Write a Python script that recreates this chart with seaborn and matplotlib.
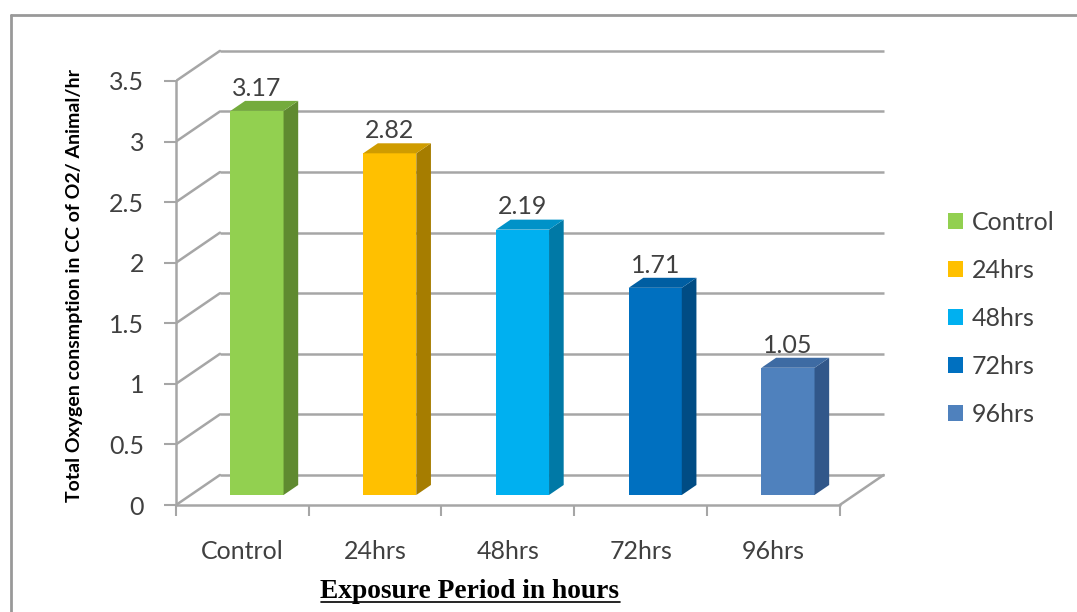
import matplotlib
matplotlib.use("Agg")
import matplotlib.pyplot as plt
from matplotlib.patches import Polygon, Patch
from matplotlib.lines import Line2D
from matplotlib.ticker import FuncFormatter, FixedLocator
import seaborn as sns

categories = ["Control", "24hrs", "48hrs", "72hrs", "96hrs"]
values = [3.17, 2.82, 2.19, 1.71, 1.05]
front_colors = ["#92D050", "#FFC000", "#00B0F0", "#0070C0", "#4F81BD"]
side_colors = ["#5F8A30", "#A67D00", "#0079A6", "#004C84", "#31578A"]
top_colors = ["#74AB3C", "#CF9C00", "#0092C8", "#005EA2", "#3E6BA3"]
y_ticks = [0, 0.5, 1, 1.5, 2, 2.5, 3, 3.5]
y_label = "Total Oxygen consmption in CC of O2/ Animal/hr"
x_label = "Exposure Period in hours"

sns.set_theme(style="white")
plt.rcParams["font.family"] = ["Lato", "DejaVu Sans"]

GRID = "#A6A6A6"
TEXT = "#404040"
FS = 18
# depth of the 3-D box, in data units (x: categories, y: value)
DX, DY = 0.331, 0.248
YMAX = y_ticks[-1]

fig = plt.figure(figsize=(10.77, 6.12), dpi=100)
ax = fig.add_axes([0.1634, 0.1748, 0.6583, 0.748])

sns.barplot(x=categories, y=values, hue=categories, palette=front_colors,
            width=0.4, legend=False, saturation=1, ax=ax, zorder=3)

ax.set_xlim(-0.5, 4.5 + DX + 0.01)
ax.set_ylim(0, YMAX + DY + 0.03)
for s in ax.spines.values():
    s.set_visible(False)

# back wall gridlines and left side-wall diagonals
for v in y_ticks:
    ax.plot([-0.5 + DX, 4.5 + DX], [v + DY, v + DY], color=GRID, lw=1.8,
            zorder=1, solid_capstyle="butt")
    ax.plot([-0.5, -0.5 + DX], [v, v + DY], color=GRID, lw=1.8, zorder=1)
# front vertical axis and floor edges
ax.plot([-0.5, -0.5], [0, YMAX], color=GRID, lw=1.8, zorder=2, clip_on=False)
ax.plot([-0.5, 4.5], [0, 0], color=GRID, lw=1.8, zorder=2, clip_on=False)
ax.plot([4.5, 4.5 + DX], [0, DY], color=GRID, lw=1.8, zorder=2, clip_on=False)

# give each bar depth: shift front face into the box, add side and top faces
for i, (bar, v) in enumerate(zip(ax.patches, values)):
    bar.set_x(bar.get_x() + DX / 3)
    bar.set_y(DY / 3)
    bar.set_edgecolor("none")
    x0 = bar.get_x()
    x1 = x0 + bar.get_width()
    y0 = DY / 3
    y1 = y0 + v
    ddx, ddy = DX / 3, DY / 3
    ax.add_patch(Polygon([(x1, y0), (x1 + ddx, y0 + ddy), (x1 + ddx, y1 + ddy), (x1, y1)],
                         closed=True, facecolor=side_colors[i], edgecolor="none", zorder=3))
    ax.add_patch(Polygon([(x0, y1), (x1, y1), (x1 + ddx, y1 + ddy), (x0 + ddx, y1 + ddy)],
                         closed=True, facecolor=top_colors[i], edgecolor="none", zorder=3))
    ax.text(x0 + bar.get_width() / 2, y1 + ddy + 0.01, f"{v:.2f}",
            ha="center", va="bottom", fontsize=FS, color=TEXT, zorder=4)

# axes ticks
ax.yaxis.set_major_locator(FixedLocator(y_ticks))
ax.yaxis.set_major_formatter(FuncFormatter(lambda v, p: f"{v:g}"))
ax.tick_params(axis="y", which="major", left=True, length=9, width=1.5, color=GRID,
               labelsize=FS, labelcolor=TEXT, pad=14)
ax.xaxis.set_minor_locator(FixedLocator([k - 0.5 for k in range(len(categories) + 1)]))
ax.tick_params(axis="x", which="minor", bottom=True, length=8, width=1.5, color=GRID)
ax.tick_params(axis="x", which="major", bottom=False, length=0, labelsize=FS,
               labelcolor=TEXT, pad=25)
ax.set_xlabel("")
ax.set_ylabel("")

fig.text(75 / 1077, 1 - 286 / 612, y_label, rotation=90, ha="center", va="center",
         fontsize=14, fontweight="bold", color="black")
xl = fig.text(470 / 1077, 1 - 592 / 612, x_label, ha="center", va="center",
              fontsize=19.8, fontweight="bold", family=["Liberation Serif"], color="black")

handles = [Patch(facecolor=c, edgecolor="none", label=l)
           for c, l in zip(front_colors, categories)]
fig.legend(handles=handles, loc="center left", bbox_to_anchor=(938 / 1077, 1 - 318 / 612),
           frameon=False, fontsize=FS, labelcolor=TEXT, handlelength=0.6, handleheight=0.6,
           handletextpad=0.35, labelspacing=1.0, borderaxespad=0)

# outer frame (left and top edges)
fig.add_artist(Line2D([11 / 1077, 11 / 1077], [0, 1 - 15 / 612], transform=fig.transFigure,
                      color="#999999", lw=2))
fig.add_artist(Line2D([11 / 1077, 1], [1 - 15 / 612, 1 - 15 / 612], transform=fig.transFigure,
                      color="#999999", lw=2))

# underline the x-axis title
fig.canvas.draw()
bb = xl.get_window_extent().transformed(fig.transFigure.inverted())
fig.add_artist(Line2D([bb.x0, bb.x1], [bb.y0 + 0.004, bb.y0 + 0.004],
                      transform=fig.transFigure, color="black", lw=1.2))

fig.savefig("out.png", dpi=100)
